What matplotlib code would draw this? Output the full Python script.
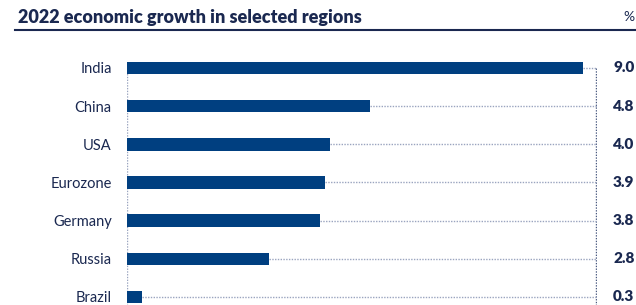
import matplotlib.pyplot as plt
from matplotlib.transforms import blended_transform_factory
from matplotlib.lines import Line2D

regions = ["India", "China", "USA", "Eurozone", "Germany", "Russia", "Brazil"]
growth = [9.0, 4.8, 4.0, 3.9, 3.8, 2.8, 0.3]
labels = ["9.0", "4.8", "4.0", "3.9", "3.8", "2.8", "0.3"]

bar_col = "#003f80"
text_col = "#1a2850"
grid_col = "#9aa4bf"

plt.rcParams["font.family"] = ["Lato", "DejaVu Sans"]

W, H = 636, 305
fig = plt.figure(figsize=(W / 100, H / 100), dpi=100)

# axes placed in pixel terms
ax_left, ax_right, ax_top = 127, 597, 50
ax = fig.add_axes([ax_left / W, 0, (ax_right - ax_left) / W, (H - ax_top) / H])

xmax = 9.0 * (ax_right - ax_left) / 456
ypos = list(range(len(regions)))
ax.barh(ypos, growth, height=0.33, color=bar_col, zorder=3)

# dotted lines from bar end to the right frame line
ax.hlines(ypos, growth, xmax, colors=grid_col, linestyles=(0, (1, 1)), linewidth=1, zorder=2)
ax.vlines([0], 0, 6.4, colors=grid_col, linestyles=(0, (1, 1)), linewidth=1, zorder=1)
ax.vlines([xmax * 0.998], 0, 6.4, colors="#4a5a80", linestyles=(0, (1, 1)), linewidth=1, zorder=1)

ax.set_xlim(0, xmax)
ax.set_ylim(6.21, -0.47)
ax.set_yticks(ypos)
ax.set_yticklabels(regions, fontsize=10.5, color=text_col)
ax.tick_params(axis="y", length=0, pad=11)
ax.set_xticks([])
for s in ax.spines.values():
    s.set_visible(False)

trans = blended_transform_factory(fig.transFigure, ax.transData)
for y, lab in zip(ypos, labels):
    ax.text(613 / W, y, lab, transform=trans, ha="left", va="center",
            fontsize=11, fontweight="heavy", color=text_col, clip_on=False)

# title and rule
fig.text(18 / W, 1 - 17 / H, "2022 economic growth in selected regions",
         ha="left", va="center", fontsize=13, fontweight="heavy", color=text_col)
fig.text(623 / W, 1 - 17 / H, "%", ha="left", va="center", fontsize=10, color=text_col)
fig.add_artist(Line2D([15 / W, 1], [1 - 30 / H, 1 - 30 / H], color="#1a2850",
                      linewidth=1.5, transform=fig.transFigure))

fig.savefig("out.png", dpi=100)
